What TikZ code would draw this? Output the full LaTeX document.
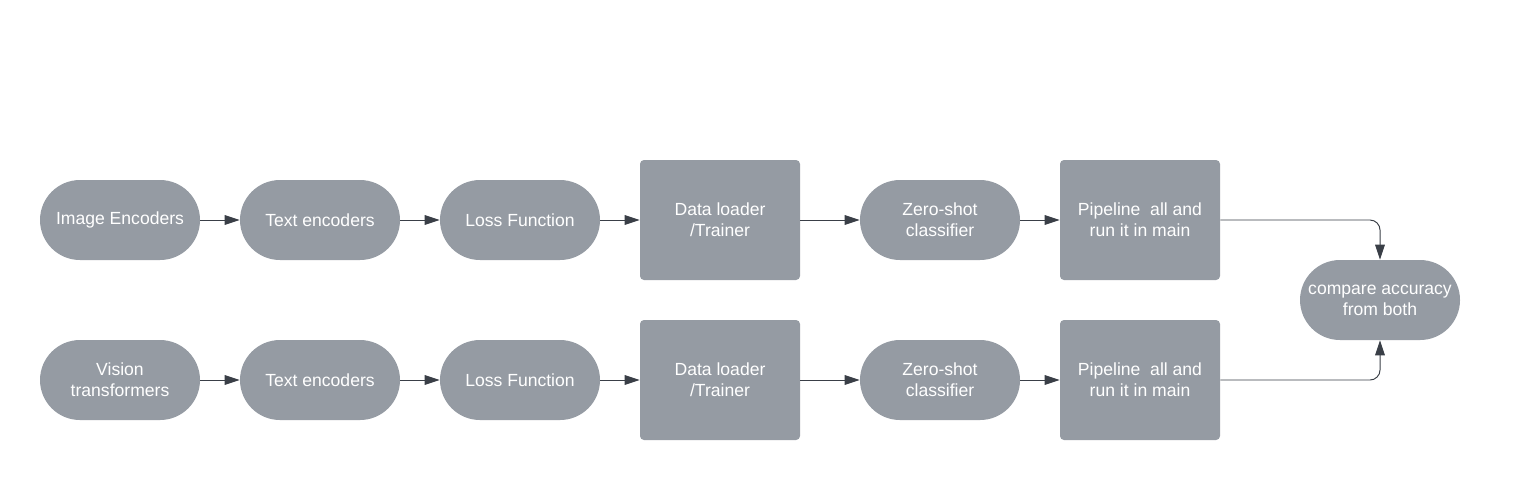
\documentclass[tikz,border=0pt]{standalone}
\usepackage{fontspec}
\setmainfont{Liberation Sans}
\usetikzlibrary{arrows.meta}

\definecolor{boxgray}{HTML}{959BA3}
\definecolor{linegray}{HTML}{3A3F47}

\begin{document}
\begin{tikzpicture}[
    pill/.style={fill=boxgray, text=white, minimum width=3.2cm, minimum height=1.6cm,
        rounded corners=0.8cm, align=center, inner sep=0pt,
        font=\fontsize{10}{11.9}\selectfont},
    block/.style={fill=boxgray, text=white, minimum width=3.2cm, minimum height=2.4cm,
        rounded corners=0.08cm, align=center, inner sep=0pt,
        font=\fontsize{10}{11.9}\selectfont},
    flow/.style={draw=linegray, line width=0.55pt, -{Triangle[length=8.5pt,width=5.5pt]}}
]
    %% Two training pipelines, compared at the end

    % Params
    \def\yTop{-4.4}
    \def\yBot{-7.6}
    \def\yMid{-6.0}

    % Canvas
    \useasboundingbox (0,0) rectangle (30.52,-9.6);

    % Top row
    \node[pill]  (imgenc)  at (2.4,\yTop)  {Image Encoders};
    \node[pill]  (txtenc1) at (6.4,\yTop)  {Text encoders};
    \node[pill]  (loss1)   at (10.4,\yTop) {Loss Function};
    \node[block] (loader1) at (14.4,\yTop) {Data loader\\/Trainer};
    \node[pill]  (zshot1)  at (18.8,\yTop) {Zero-shot\\classifier};
    \node[block] (pipe1)   at (22.8,\yTop) {Pipeline~ all and\\run it in main};

    % Bottom row
    \node[pill]  (vit)     at (2.4,\yBot)  {Vision\\transformers};
    \node[pill]  (txtenc2) at (6.4,\yBot)  {Text encoders};
    \node[pill]  (loss2)   at (10.4,\yBot) {Loss Function};
    \node[block] (loader2) at (14.4,\yBot) {Data loader\\/Trainer};
    \node[pill]  (zshot2)  at (18.8,\yBot) {Zero-shot\\classifier};
    \node[block] (pipe2)   at (22.8,\yBot) {Pipeline~ all and\\run it in main};

    % Result
    \node[pill]  (cmp)     at (27.6,\yMid) {compare accuracy\\from both};

    % Arrows
    \draw[flow] (imgenc) -- (txtenc1);
    \draw[flow] (txtenc1) -- (loss1);
    \draw[flow] (loss1) -- (loader1);
    \draw[flow] (loader1) -- (zshot1);
    \draw[flow] (zshot1) -- (pipe1);
    \draw[flow] (vit) -- (txtenc2);
    \draw[flow] (txtenc2) -- (loss2);
    \draw[flow] (loss2) -- (loader2);
    \draw[flow] (loader2) -- (zshot2);
    \draw[flow] (zshot2) -- (pipe2);
    \draw[flow, rounded corners=0.2cm] (pipe1.east) -| (cmp.north);
    \draw[flow, rounded corners=0.2cm] (pipe2.east) -| (cmp.south);

\end{tikzpicture}
\end{document}
